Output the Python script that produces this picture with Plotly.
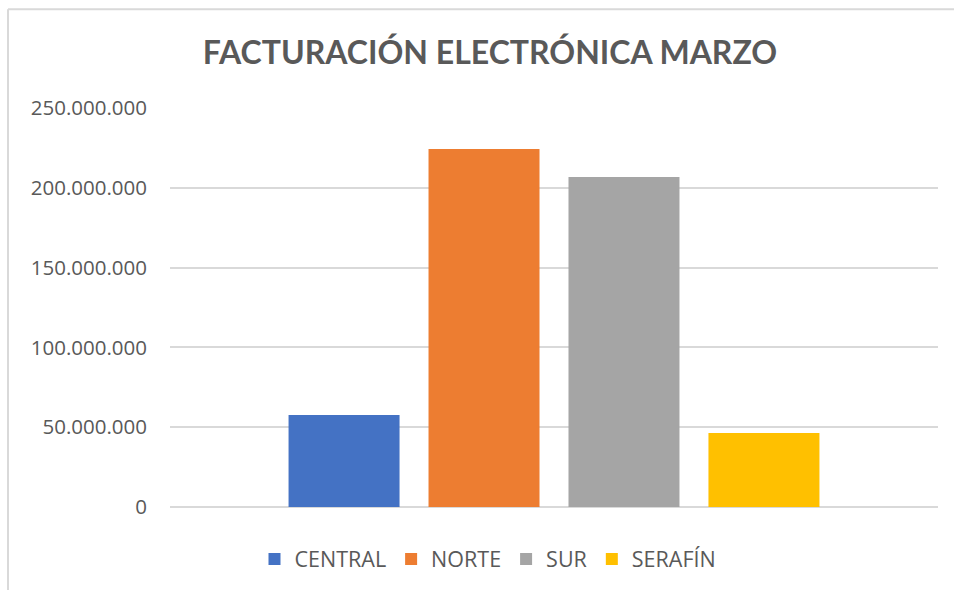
import plotly.graph_objects as go

series = ["CENTRAL", "NORTE", "SUR", "SERAFÍN"]
values = [57_700_000, 224_300_000, 206_700_000, 46_300_000]
colors = ["#4472C4", "#ED7D31", "#A5A5A5", "#FFC000"]
category = [""]
tick_vals = [0, 50_000_000, 100_000_000, 150_000_000, 200_000_000, 250_000_000]
tick_text = ["0", "50.000.000", "100.000.000", "150.000.000", "200.000.000", "250.000.000"]

fig = go.Figure()
for name, v, c in zip(series, values, colors):
    fig.add_trace(go.Bar(x=category, y=[v], name=name, marker_color=c, marker_line_width=0))

L, R, T, B = 170, 16, 108, 82
W, H = 954, 590
pw, ph = W - L - R, H - T - B

def px_x(x):
    return (x - L) / pw

def px_y(y):
    return (H - B - y) / ph

fig.update_layout(
    width=W, height=H,
    margin=dict(l=L, r=R, t=T, b=B, pad=0),
    paper_bgcolor="white", plot_bgcolor="white",
    barmode="group", bargap=0.271, bargroupgap=0.207,
    title=dict(text="<b>FACTURACIÓN ELECTRÓNICA MARZO</b>", xref="container",
               x=490 / W, xanchor="center",
               y=1 - 53 / H, yanchor="middle",
               font=dict(family="Lato", size=32, color="#595959")),
    font=dict(family="Open Sans", color="#595959"),
    showlegend=True,
    legend=dict(orientation="h", x=px_x(488), xanchor="center", y=px_y(559), yanchor="middle",
                font=dict(size=21.5, color="#595959"), itemclick=False,
                traceorder="normal"),
    xaxis=dict(showticklabels=False, showgrid=False, zeroline=False, showline=False,
               ticks=""),
    yaxis=dict(range=[0, 250_000_000], tickvals=tick_vals, ticktext=tick_text,
               showgrid=True, gridcolor="#d9d9d9", gridwidth=1.5,
               zeroline=True, zerolinecolor="#d9d9d9", zerolinewidth=2,
               showline=False, ticks="", ticklabelstandoff=22,
               tickfont=dict(family="Open Sans", size=20.5, color="#595959")),
    shapes=[
        dict(type="line", xref="paper", yref="paper", x0=px_x(8), x1=px_x(8),
             y0=px_y(600), y1=px_y(9), line=dict(color="#d9d9d9", width=2)),
        dict(type="line", xref="paper", yref="paper", x0=px_x(8), x1=px_x(970),
             y0=px_y(9), y1=px_y(9), line=dict(color="#d9d9d9", width=2)),
    ],
)

fig.write_html("out.html", config={"displayModeBar": False},
               post_script="document.body.style.margin='0';")
